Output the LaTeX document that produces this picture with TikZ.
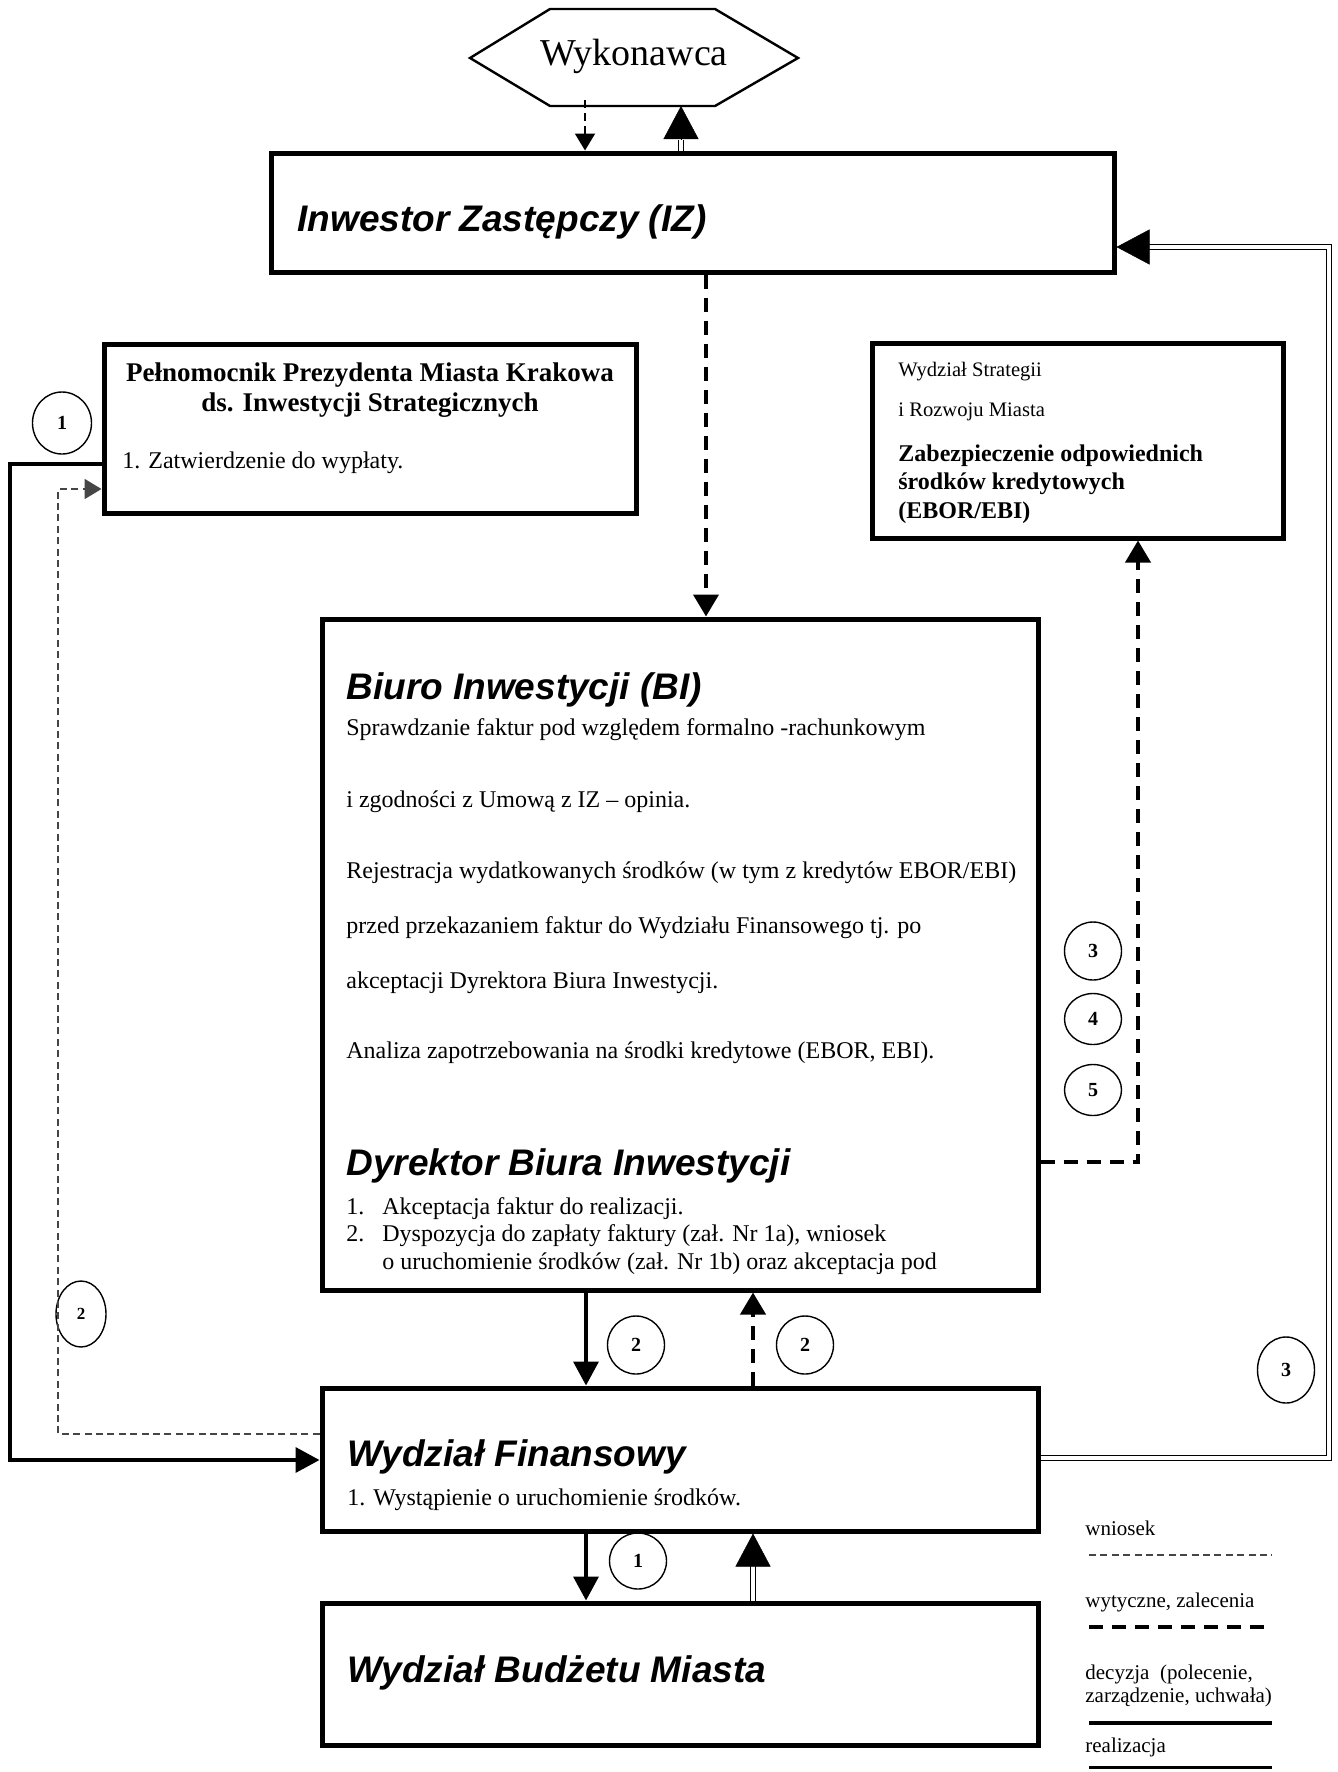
\documentclass[tikz,border=0pt]{standalone}
\usepackage{fontspec}
\setmainfont{Liberation Serif}
\newfontfamily\arialfont{Liberation Sans}
\usetikzlibrary{arrows.meta,fit,shapes.geometric}

\definecolor{wngray}{gray}{0.27}

\tikzset{
  box/.style={draw, line width=2.5pt, inner sep=0pt},
  title/.style={anchor=west, inner sep=0pt, text height=0.75em, text depth=0.22em, font=\arialfont\bfseries\itshape\fontsize{18.5}{22}\selectfont},
  txt/.style={anchor=west, inner sep=0pt, text height=0.7em, text depth=0.22em, font=\fontsize{12}{14}\selectfont},
  leg/.style={anchor=west, inner sep=0pt, align=left, font=\fontsize{10.5}{11.5}\selectfont},
  num/.style={draw, ellipse, line width=0.7pt, inner sep=0pt, minimum width=28.5pt, minimum height=29pt, font=\bfseries\fontsize{10}{12}\selectfont},
  decyzja/.style={line width=1.8pt, -{Triangle[length=12pt,width=12.5pt]}},
  wytyczne/.style={line width=2pt, dash pattern=on 7pt off 4.5pt, -{Triangle[length=11pt,width=12.5pt]}},
  wniosek/.style={draw=wngray, line width=0.9pt, dash pattern=on 3.5pt off 2.2pt, -{Triangle[length=8.5pt,width=10pt]}},
  cienka/.style={line width=1pt, dash pattern=on 4pt off 2.5pt, -{Triangle[length=8.5pt,width=10pt]}},
  realizacja/.style={double, line width=0.9pt, double distance=1.6pt},
  bigtip/.style={line width=0.2pt, -{Triangle[length=16.5pt,width=17.5pt]}}
}

\begin{document}
\begin{tikzpicture}[x=0.5pt,y=-0.5pt]
\fill[white] (0,0) rectangle (1338,1772);
\useasboundingbox (0,0) rectangle (1338,1772);

\draw[line width=1.2pt] (470,58) -- (550,9) -- (715,9) -- (798,58) -- (715,106) -- (550,106) -- cycle;
\node[font=\fontsize{19}{22}\selectfont] (wyk) at (634,56) {Wykonawca};

\node[box, fit={(271,153) (1114,272)}] (iz) {};
\node[box, fit={(104,344) (636,513)}] (pp) {};
\node[box, fit={(872,343) (1283,538)}] (ws) {};
\node[box, fit={(322,619) (1038,1290)}] (bi) {};
\node[box, fit={(322,1388) (1038,1531)}] (wf) {};
\node[box, fit={(322,1603) (1038,1745)}] (wbm) {};

\node[title] (izt) at (297,226) {Inwestor Zastępczy (IZ)};

\node[align=center, inner sep=0pt, font=\bfseries\fontsize{13.5}{15}\selectfont] (ppt) at (370,390) {Pełnomocnik Prezydenta Miasta Krakowa\\ds. Inwestycji Strategicznych};
\node[txt] (ppa) at (122,464) {1. Zatwierdzenie do wypłaty.};

\node[anchor=west, inner sep=0pt, font=\fontsize{10.3}{12}\selectfont] (ws1) at (898,372) {Wydział Strategii};
\node[anchor=west, inner sep=0pt, font=\fontsize{10.3}{12}\selectfont] (ws2) at (898,412) {i Rozwoju Miasta};
\node[anchor=west, inner sep=0pt, align=left, font=\bfseries\fontsize{12}{14.25}\selectfont] (ws3) at (898,484) {Zabezpieczenie odpowiednich\\środków kredytowych\\(EBOR/EBI)};

\node[title] (bit) at (346,694) {Biuro Inwestycji (BI)};
\foreach \y/\t [count=\i] in {731/{Sprawdzanie faktur pod względem formalno -rachunkowym},
  803/{i zgodności z Umową z IZ – opinia.},
  874/{Rejestracja wydatkowanych środków (w tym z kredytów EBOR/EBI)},
  929/{przed przekazaniem faktur do Wydziału Finansowego tj. po},
  984/{akceptacji Dyrektora Biura Inwestycji.},
  1054/{Analiza zapotrzebowania na środki kredytowe (EBOR, EBI).}}{
  \node[txt] (bi\i) at (346,\y) {\t};
}

\node[title] (dbt) at (346,1170) {Dyrektor Biura Inwestycji};
\node[txt] (db1n) at (346,1210) {1.};
\node[txt] (db1) at (382,1210) {Akceptacja faktur do realizacji.};
\node[txt] (db2n) at (346,1237) {2.};
\node[txt] (db2) at (382,1237) {Dyspozycja do zapłaty faktury (zał. Nr 1a), wniosek};
\node[txt] (db3) at (382,1265) {o uruchomienie środków (zał. Nr 1b) oraz akceptacja pod};

\node[title] (wft) at (347,1461) {Wydział Finansowy};
\node[txt] (wf1) at (347,1501) {1. Wystąpienie o uruchomienie środków.};

\node[title] (wbmt) at (347,1677) {Wydział Budżetu Miasta};

\node[num, minimum width=29.5pt, minimum height=31pt] (n1a) at (62,423) {1};
\node[num, minimum width=25pt, minimum height=33pt, font=\bfseries\fontsize{8.5}{10}\selectfont] (n2l) at (81,1314) {2};
\node[num] (n2a) at (636,1345) {2};
\node[num] (n2b) at (805,1345) {2};
\node[num, minimum height=33pt] (n3r) at (1286,1370) {3};
\node[num] (n3) at (1093,951) {3};
\node[num, minimum height=25.5pt] (n4) at (1093,1019) {4};
\node[num, minimum height=25.5pt] (n5) at (1093,1090) {5};
\node[num, minimum height=28pt] (n1b) at (638,1561) {1};

\coordinate (w1) at (585,100);
\coordinate (w2) at (681,106);
\coordinate (w3) at (681,140);
\draw[cienka] (w1) -- (iz.north -| w1);
\draw[realizacja] (iz.north -| w2) -- (w3);
\draw[bigtip] (w3) -- (w2);

\coordinate (z1) at (706,0);
\draw[wytyczne] (iz.south -| z1) -- (bi.north -| z1);

\coordinate (l1) at (10,464);
\coordinate (l2) at (10,1460);
\draw[decyzja] (pp.west |- l1) -- (l1) -- (l2) -- (wf.west |- l2);

\coordinate (g1) at (58,489);
\coordinate (g2) at (58,1434);
\draw[wniosek] (wf.west |- g2) -- (g2) -- (g1) -- (pp.west |- g1);

\coordinate (d1) at (1138,1162);
\draw[wytyczne] (bi.east |- d1) -- (d1) -- (ws.south -| d1);

\coordinate (v1) at (586,0);
\coordinate (v2) at (753,0);
\coordinate (v3) at (753,1565);
\draw[decyzja] (bi.south -| v1) -- (wf.north -| v1);
\draw[wytyczne] (wf.north -| v2) -- (bi.south -| v2);
\draw[decyzja] (wf.south -| v1) -- (wbm.north -| v1);
\draw[realizacja] (wbm.north -| v2) -- (v3);
\draw[bigtip] (v3) -- (wf.south -| v2);

\coordinate (r1) at (1329,1458);
\coordinate (r2) at (1329,247);
\coordinate (r3) at (1148,247);
\draw[realizacja] (wf.east |- r1) -- (r1) -- (r2) -- (r3);
\draw[bigtip] (r3) -- (iz.east |- r3);

\node[leg] (lg1) at (1085,1528) {wniosek};
\node[leg] (lg2) at (1085,1602) {wytyczne, zalecenia};
\node[leg] (lg3) at (1085,1686) {decyzja\ \ (polecenie,\\zarządzenie, uchwała)};
\node[leg] (lg4) at (1085,1747) {realizacja};
\draw[wniosek, -] (1089,1555) -- (1272,1555);
\draw[wytyczne, -] (1089,1627) -- (1267,1627);
\draw[line width=2pt] (1089,1723) -- (1272,1723);
\draw[line width=1.5pt] (1089,1767) -- (1272,1767);

\end{tikzpicture}
\end{document}
